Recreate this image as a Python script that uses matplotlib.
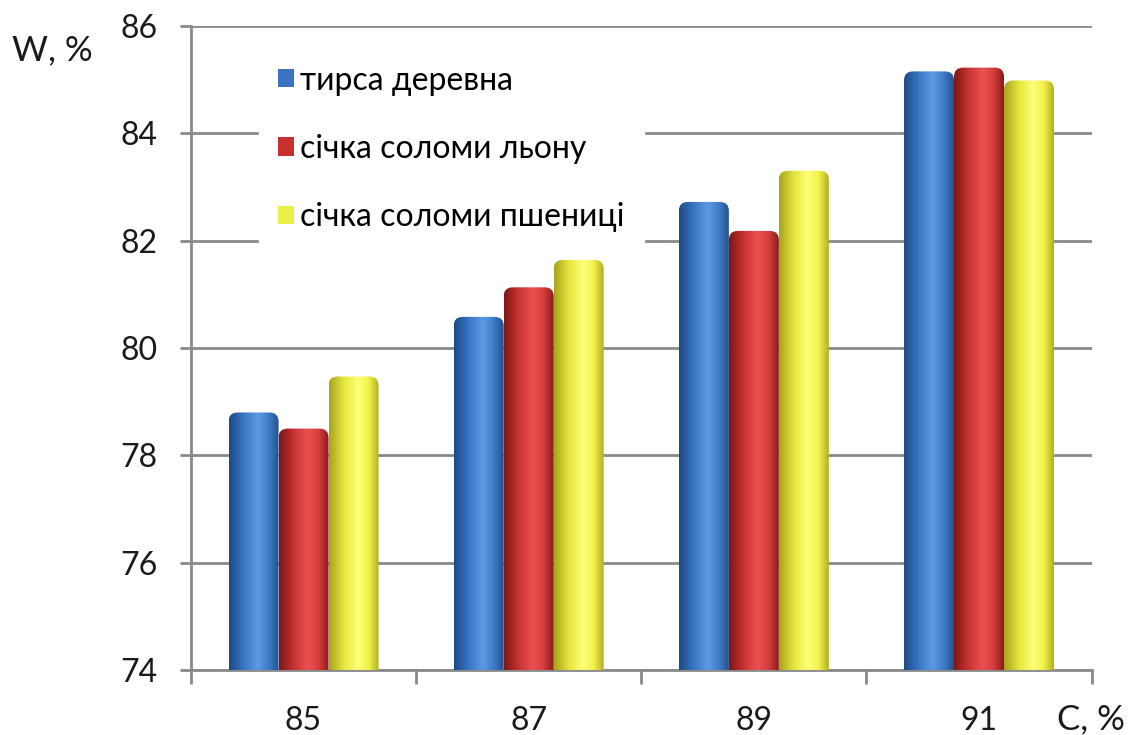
import numpy as np
import matplotlib
matplotlib.use("Agg")
import matplotlib.pyplot as plt
from matplotlib.patches import FancyBboxPatch, Patch
from matplotlib.colors import to_rgb

plt.rcParams['font.family'] = ['Lato', 'DejaVu Sans']

# Concentration C, % (categories) and moisture W, % for each filler
categories = ["85", "87", "89", "91"]
series_names = ["тирса деревна", "січка соломи льону", "січка соломи пшениці"]
sawdust = [78.8, 80.58, 82.72, 85.15]
flax = [78.5, 81.13, 82.18, 85.22]
wheat = [79.47, 81.64, 83.3, 84.98]
y_ticks = [74, 76, 78, 80, 82, 84, 86]

# Shading stops (dark edge, body, highlight, body, dark edge) for cylinder bars
shades = [
    ["#1d4a86", "#3a76c4", "#5b9ae4", "#3f7cc8", "#24518e"],
    ["#7e1717", "#c93434", "#ea5252", "#d63c3c", "#8a1d1d"],
    ["#a8a41c", "#e6e640", "#ffff78", "#f2f24a", "#b4b022"],
]
legend_colors = ["#3a74c0", "#c83030", "#eeee4a"]

fig = plt.figure(figsize=(11.3, 7.35), dpi=100)
ax = fig.add_axes([0.169, 0.088, 0.797, 0.877])

x = np.arange(len(categories))
width = 0.222
offsets = [-width, 0.0, width]
all_values = [sawdust, flax, wheat]

ax.set_xlim(-0.5, len(categories) - 0.5)
ax.set_ylim(y_ticks[0], y_ticks[-1])


def gradient_image(stops, n=64):
    pos = np.array([0.0, 0.3, 0.58, 0.8, 1.0])
    rgb = np.array([to_rgb(c) for c in stops])
    t = np.linspace(0, 1, n)
    cols = np.stack([np.interp(t, pos, rgb[:, k]) for k in range(3)], axis=-1)
    return cols[np.newaxis, :, :]


# pixels per data unit in x and y, to keep rounded tops circular
fig.canvas.draw()
bbox = ax.get_window_extent()
px_x = bbox.width / (len(categories))
px_y = bbox.height / (y_ticks[-1] - y_ticks[0])
aspect = px_x / px_y

for vals, off, stops in zip(all_values, offsets, shades):
    bars = ax.bar(x + off, vals, width, color=stops[1], zorder=3)
    img = gradient_image(stops)
    for rect in bars:
        rect.set_visible(False)
        x0, y0 = rect.get_xy()
        w, h = rect.get_width(), rect.get_height()
        clip = FancyBboxPatch((x0, y0), w, h,
                              boxstyle="round,pad=0,rounding_size=0.04",
                              mutation_aspect=aspect,
                              facecolor="none", edgecolor="none",
                              transform=ax.transData)
        ax.add_patch(clip)
        im = ax.imshow(img, extent=(x0, x0 + w, y_ticks[0] - 1, y0 + h),
                       aspect="auto", interpolation="bilinear", zorder=3)
        im.set_clip_path(clip)

ax.set_xlim(-0.5, len(categories) - 0.5)
ax.set_ylim(y_ticks[0], y_ticks[-1])

# Grid and axes styling
grid_color = "#8a8a8a"
ax.set_yticks(y_ticks)
ax.yaxis.grid(True, color=grid_color, linewidth=2.0, zorder=0)
ax.set_axisbelow(True)
for side in ["top", "right"]:
    ax.spines[side].set_visible(False)
for side in ["left", "bottom"]:
    ax.spines[side].set_color(grid_color)
    ax.spines[side].set_linewidth(2.0)

ax.tick_params(axis="y", length=8, width=2, color=grid_color,
               labelsize=23, pad=16, labelcolor="#1a1a1a")

# Category separators as major ticks; labels at centers as minor ticks
ax.set_xticks(np.arange(len(categories) + 1) - 0.5)
ax.set_xticklabels([])
ax.set_xticks(x, minor=True)
ax.set_xticklabels(categories, minor=True)
ax.tick_params(axis="x", which="major", length=10, width=2, color=grid_color)
ax.tick_params(axis="x", which="minor", length=0, labelsize=23, pad=26,
               labelcolor="#1a1a1a")

fig.text(0.011, 0.918, "W, %", fontsize=25, color="#1a1a1a")
fig.text(0.935, 0.008, "C, %", fontsize=25, color="#1a1a1a")

handles = [Patch(facecolor=c, edgecolor="none") for c in legend_colors]
leg = ax.legend(handles, series_names, loc="upper left",
                bbox_to_anchor=(0.075, 0.968), fontsize=23,
                frameon=True, fancybox=False, framealpha=1.0,
                edgecolor="white", facecolor="white", borderaxespad=0,
                handlelength=0.5, handleheight=0.5, handletextpad=0.2,
                labelspacing=1.2, borderpad=0.6)
leg.set_zorder(5)

fig.savefig("out.png", dpi=100, facecolor="white")
